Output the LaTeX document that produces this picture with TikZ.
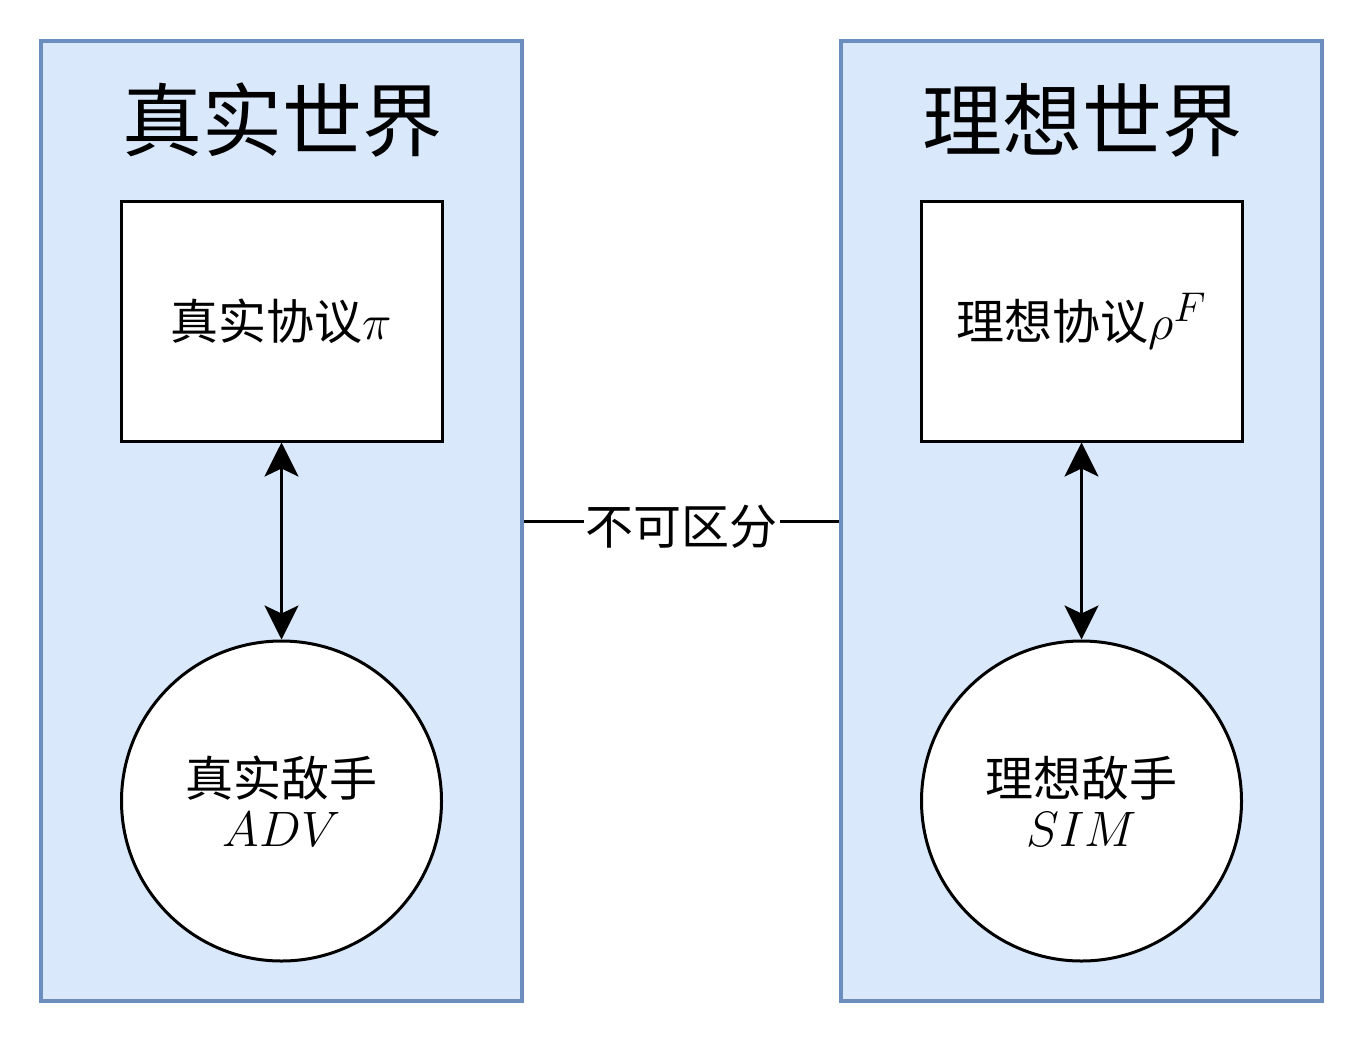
\documentclass[tikz,border=0pt]{standalone}
\usepackage{fontspec}
\usepackage{amsmath}
\usetikzlibrary{arrows.meta, positioning}
\newfontfamily\cjk{Noto Sans CJK SC}
\definecolor{worldfill}{HTML}{DAE8FC}
\definecolor{worldline}{HTML}{6C8EBF}

\begin{document}
\begin{tikzpicture}[x=0.5pt, y=-0.5pt,
  every node/.style={font=\cjk\fontsize{24}{26}\selectfont},
  world/.style={draw=worldline, fill=worldfill, line width=2pt,
    minimum width=240.5pt, minimum height=480pt, inner sep=0pt},
  worldtitle/.style={font=\cjk\fontsize{40}{48}\selectfont},
  protocol/.style={draw, fill=white, line width=1.5pt,
    minimum width=160.5pt, minimum height=120pt, inner sep=0pt},
  adversary/.style={draw, fill=white, circle, line width=1.5pt,
    minimum size=160pt, inner sep=0pt, align=center},
  link/.style={line width=1.5pt, {Stealth[length=17pt, width=17pt, inset=4pt]}-{Stealth[length=17pt, width=17pt, inset=4pt]}}]
  \useasboundingbox (0,0) rectangle (1364,1044);
  % two worlds
  \node[world] (real) at (281.5,521) {};
  \node[world] (ideal) at (1081.5,521) {};
  \node[worldtitle] (realtitle) at (282,120) {真实世界};
  \node[worldtitle] (idealtitle) at (1082,120) {理想世界};
  % protocols
  \node[protocol] (realproto) at (281.5,321) {真实协议{\fontsize{28}{30}\selectfont$\pi$}};
  \node[protocol] (idealproto) at (1081.5,321) {理想协议{\fontsize{29}{30}\selectfont$\rho^F$}};
  % adversaries
  \node[adversary] (adv) at (281.5,801) {真实敌手\\[-1pt]{\fontsize{31}{30}\selectfont$ADV$}};
  \node[adversary] (sim) at (1081.5,801) {理想敌手\\[-1pt]{\fontsize{31}{30}\selectfont$SIM$}};
  \draw[link] (realproto.south) -- (adv.north);
  \draw[link] (idealproto.south) -- (sim.north);
  % indistinguishable
  \draw[line width=1.5pt] (real.east) -- node[fill=white, inner sep=1pt, yshift=-3pt] (indist) {不可区分} (ideal.west);
\end{tikzpicture}
\end{document}
